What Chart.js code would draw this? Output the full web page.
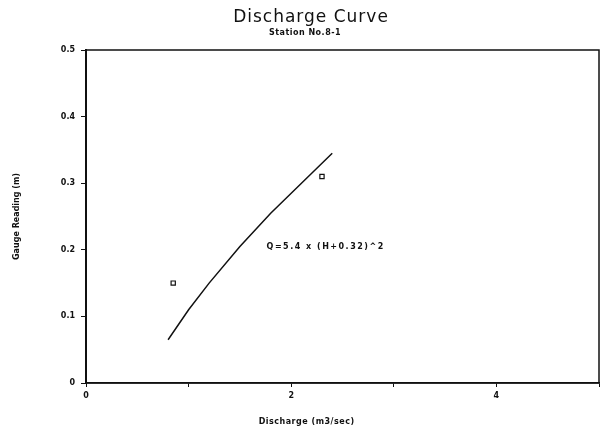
<!DOCTYPE html>
<html>
<head>
<meta charset="utf-8">
<script src="https://cdn.jsdelivr.net/npm/chart.js@4/dist/chart.umd.min.js"></script>
<style>
  html, body { margin: 0; padding: 0; background: #fff; }
  #wrap { width: 605px; height: 436px; }
</style>
</head>
<body>
<div id="wrap"><canvas id="chart" width="605" height="436"></canvas></div>
<script>
// ==== Data ====
const curveQ = [0.80, 1.0, 1.2, 1.5, 1.8, 2.0, 2.2, 2.4];
const curveH = [0.065, 0.11, 0.15, 0.205, 0.255, 0.285, 0.315, 0.345];
const obsQ = [0.85, 2.3];
const obsH = [0.15, 0.31];
const yTicks = [0, 0.1, 0.2, 0.3, 0.4, 0.5];
const xLabelled = [0, 2, 4];
const equationText = 'Q=5.4 x (H+0.32)^2';
const equationAt = { x: 1.76, y: 0.205 };
const xTitleAt = 2.15; // x title is centred a bit left of the plot middle

const INK = '#111';
const FONT = '"DejaVu Sans", sans-serif';

// ==== Frame, titles and equation ====
const paperPlugin = {
    id: 'paper',
    afterDraw(chart) {
        const { ctx, chartArea: a, scales } = chart;
        ctx.save();
        ctx.strokeStyle = INK;
        ctx.lineWidth = 1.5;
        ctx.strokeRect(a.left, a.top, a.right - a.left, a.bottom - a.top);

        ctx.fillStyle = INK;
        ctx.textAlign = 'center';
        ctx.textBaseline = 'middle';
        ctx.letterSpacing = '1px';
        ctx.font = '17px ' + FONT;
        ctx.fillText('Discharge Curve', 311, 18);
        ctx.letterSpacing = '0.5px';
        ctx.font = 'bold 8px ' + FONT;
        ctx.fillText('Station No.8-1', 305, 33);

        ctx.fillText('Discharge (m3/sec)', scales.x.getPixelForValue(xTitleAt), 422);

        ctx.letterSpacing = '1.5px';
        ctx.textAlign = 'left';
        ctx.fillText(equationText, scales.x.getPixelForValue(equationAt.x), scales.y.getPixelForValue(equationAt.y));
        ctx.restore();
    }
};

new Chart(document.getElementById('chart'), {
    type: 'scatter',
    data: {
        datasets: [
            {
                label: 'curve',
                data: curveQ.map((q, i) => ({ x: q, y: curveH[i] })),
                showLine: true,
                borderColor: INK,
                borderWidth: 1.5,
                pointRadius: 0,
                tension: 0
            },
            {
                label: 'observed',
                data: obsQ.map((q, i) => ({ x: q, y: obsH[i] })),
                showLine: false,
                pointStyle: 'rect',
                pointRadius: 3,
                borderColor: INK,
                borderWidth: 1.2,
                backgroundColor: '#fff'
            }
        ]
    },
    options: {
        responsive: false,
        animation: false,
        layout: { padding: { top: 50, right: 6, left: 0, bottom: 0 } },
        plugins: { legend: { display: false }, tooltip: { enabled: false } },
        scales: {
            x: {
                type: 'linear',
                min: 0, max: 5,
                ticks: {
                    stepSize: 1,
                    color: INK,
                    font: { family: FONT, size: 8, weight: 'bold' },
                    maxRotation: 0,
                    padding: 4,
                    callback: v => xLabelled.includes(v) ? String(v) : ''
                },
                grid: { drawOnChartArea: false, color: INK, tickLength: 4 },
                border: { color: INK, width: 1.5 },
                afterFit(scale) { scale.height = 53; }
            },
            y: {
                type: 'linear',
                min: 0, max: 0.5,
                afterBuildTicks(scale) { scale.ticks = yTicks.map(v => ({ value: v })); },
                ticks: {
                    color: INK,
                    font: { family: FONT, size: 8, weight: 'bold' },
                    padding: 6,
                    callback: v => v === 0 ? '0' : v.toFixed(1)
                },
                grid: { drawOnChartArea: false, color: INK, tickLength: 5 },
                border: { color: INK, width: 2 },
                title: {
                    display: true,
                    text: 'Gauge Reading (m)',
                    color: INK,
                    font: { family: FONT, size: 8, weight: 'bold' },
                    padding: { top: 12, bottom: 20 }
                },
                afterFit(scale) { scale.width = 86; }
            }
        }
    },
    plugins: [paperPlugin]
});
</script>
</body>
</html>
